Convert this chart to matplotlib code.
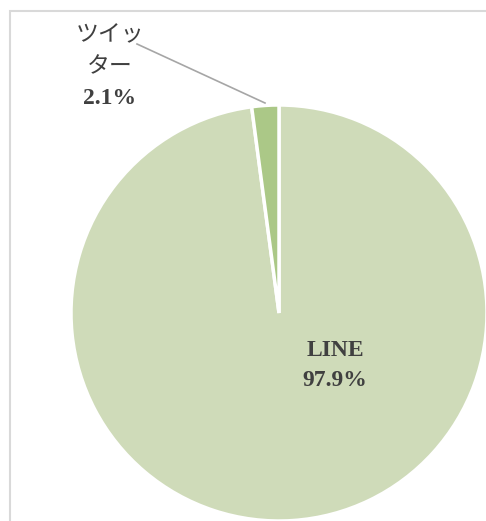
import matplotlib.pyplot as plt
from matplotlib.patches import Rectangle

# data
names = ["LINE", "ツイッ\nター"]
shares = [97.9, 2.1]
colors = ["#CFDBB9", "#ABC887"]

W, H = 486, 521
fig = plt.figure(figsize=(W / 100, H / 100), dpi=100)
ax = fig.add_axes([0, 0, 1, 1])

# pie center / radius in pixels
cx, cy, r = 279, 313, 208

wedges, _ = ax.pie(shares, colors=colors, startangle=90, counterclock=False,
                   radius=1, wedgeprops=dict(edgecolor="white", linewidth=2.5))
ax.set_xlim(-cx / r, (W - cx) / r)
ax.set_ylim((cy - H) / r, cy / r)
ax.axis("off")

def px(x, y):
    return ((x - cx) / r, (cy - y) / r)

fam = ["Liberation Serif", "Noto Sans CJK JP"]
tc = "#404040"

# LINE label
ax.text(*px(335, 350), names[0], ha="center", va="center", fontsize=17,
        fontweight="bold", family=fam, color=tc)
ax.text(*px(335, 381), f"{shares[0]}%", ha="center", va="center", fontsize=17,
        fontweight="bold", family=fam, color=tc)

# twitter label
for i, line in enumerate(names[1].split("\n")):
    ax.text(*px(110, 36 + 32 * i), line, ha="center", va="center", fontsize=16.5,
            family=fam, color=tc)
ax.text(*px(110, 99), f"{shares[1]}%", ha="center", va="center", fontsize=17,
        fontweight="bold", family=fam, color=tc)
x0, y0 = px(137, 44)
x1, y1 = px(265, 103)
ax.plot([x0, x1], [y0, y1], color="#A6A6A6", lw=1.2)

# chart area border
fig.patches.append(Rectangle((9.5 / W, -0.1), 1.2, 1.1 - 10.5 / H,
                             transform=fig.transFigure, fill=False,
                             edgecolor="#D9D9D9", lw=1.5))

fig.savefig("out.png", dpi=100)
